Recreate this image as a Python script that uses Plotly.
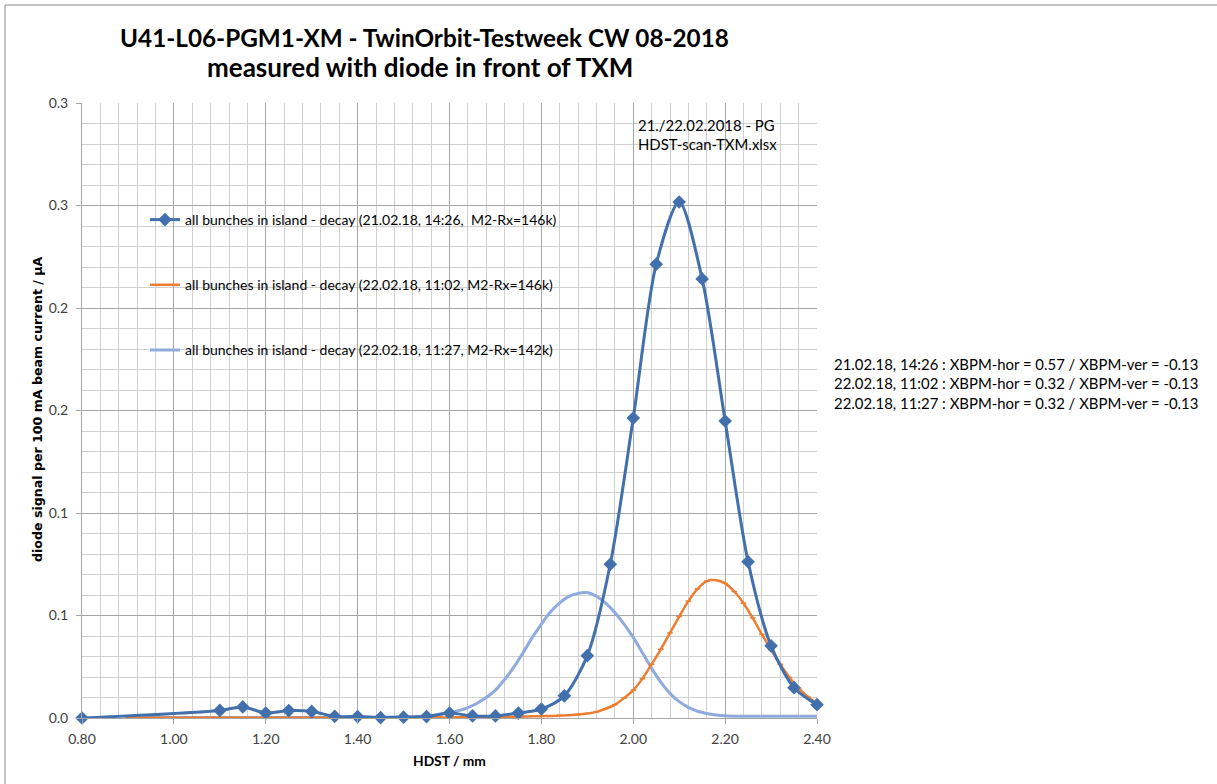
import plotly.graph_objects as go

# ---------------- data ----------------
blue_x = [0.80, 1.10, 1.15, 1.20, 1.25, 1.30, 1.35, 1.40, 1.45, 1.50, 1.55, 1.60, 1.65, 1.70,
          1.75, 1.80, 1.85, 1.90, 1.95, 2.00, 2.05, 2.10, 2.15, 2.20, 2.25, 2.30, 2.35, 2.40]
blue_y = [0.0000, 0.0037, 0.0054, 0.0024, 0.0036, 0.0032, 0.0008, 0.0007, 0.0002, 0.0004, 0.0007,
          0.0024, 0.0010, 0.0010, 0.0024, 0.0044, 0.0108, 0.0304, 0.0750, 0.1463, 0.2214, 0.2517,
          0.2142, 0.1449, 0.0762, 0.0352, 0.0148, 0.0065]

fine_x = [0.90, 0.92, 0.94, 0.96, 0.98, 1.00, 1.02, 1.04, 1.06, 1.08, 1.10, 1.12, 1.14, 1.16,
          1.18, 1.20, 1.22, 1.24, 1.26, 1.28, 1.30, 1.32, 1.34, 1.36, 1.38, 1.40, 1.42, 1.44,
          1.46, 1.48, 1.50, 1.52, 1.54, 1.56, 1.58, 1.60, 1.62, 1.64, 1.66, 1.68, 1.70, 1.72,
          1.74, 1.76, 1.78, 1.80, 1.82, 1.84, 1.86, 1.88, 1.90, 1.92, 1.94, 1.96, 1.98, 2.00,
          2.02, 2.04, 2.06, 2.08, 2.10, 2.12, 2.14, 2.16, 2.18, 2.20, 2.22, 2.24, 2.26, 2.28,
          2.30, 2.32, 2.34, 2.36, 2.38, 2.40]

orange_y = [0.0001, 0.0001, 0.0001, 0.0001, 0.0001, 0.0001, 0.0001, 0.0001, 0.0001, 0.0001,
            0.0001, 0.0001, 0.0001, 0.0001, 0.0001, 0.0001, 0.0001, 0.0001, 0.0001, 0.0001,
            0.0001, 0.0001, 0.0001, 0.0001, 0.0001, 0.0001, 0.0001, 0.0001, 0.0001, 0.0001,
            0.0002, 0.0002, 0.0002, 0.0003, 0.0003, 0.0003, 0.0004, 0.0004, 0.0004, 0.0005,
            0.0005, 0.0005, 0.0006, 0.0007, 0.0008, 0.0009, 0.0010, 0.0012, 0.0014, 0.0017,
            0.0022, 0.0030, 0.0045, 0.0065, 0.0097, 0.0136, 0.0192, 0.0262, 0.0335, 0.0415,
            0.0495, 0.0570, 0.0630, 0.0668, 0.0672, 0.0657, 0.0617, 0.0560, 0.0488, 0.0408,
            0.0333, 0.0262, 0.0198, 0.0146, 0.0104, 0.0070]

lightblue_y = [0.0003, 0.0003, 0.0003, 0.0003, 0.0003, 0.0003, 0.0003, 0.0003, 0.0003, 0.0003,
               0.0003, 0.0003, 0.0003, 0.0003, 0.0003, 0.0003, 0.0003, 0.0003, 0.0003, 0.0003,
               0.0003, 0.0003, 0.0003, 0.0003, 0.0003, 0.0003, 0.0004, 0.0004, 0.0004, 0.0005,
               0.0005, 0.0006, 0.0008, 0.0011, 0.0017, 0.0026, 0.0036, 0.0051, 0.0072, 0.0100,
               0.0136, 0.0188, 0.0248, 0.0318, 0.0392, 0.0458, 0.0518, 0.0562, 0.0593, 0.0608,
               0.0612, 0.0594, 0.0560, 0.0515, 0.0458, 0.0393, 0.0318, 0.0242, 0.0175, 0.0120,
               0.0080, 0.0052, 0.0033, 0.0022, 0.0015, 0.0011, 0.0009, 0.0008, 0.0008, 0.0008,
               0.0008, 0.0008, 0.0008, 0.0008, 0.0008, 0.0008]

series_names = [
    "all bunches in island - decay (21.02.18, 14:26,\u00a0 M2-Rx=146k)",
    "all bunches in island - decay (22.02.18, 11:02, M2-Rx=146k)",
    "all bunches in island - decay (22.02.18, 11:27, M2-Rx=142k)",
]

x_tick_vals = [0.80, 1.00, 1.20, 1.40, 1.60, 1.80, 2.00, 2.20, 2.40]
x_tick_text = ["0.80", "1.00", "1.20", "1.40", "1.60", "1.80", "2.00", "2.20", "2.40"]
y_tick_vals = [0.00, 0.05, 0.10, 0.15, 0.20, 0.25, 0.30]
y_tick_text = ["0.0", "0.1", "0.1", "0.2", "0.2", "0.3", "0.3"]

title_line1 = "U41-L06-PGM1-XM - TwinOrbit-Testweek CW 08-2018"
title_line2 = "measured with diode in front of TXM"
y_title = "diode signal per 100 mA beam current / µA"
x_title = "HDST / mm"
note_text = "21./22.02.2018 - PG<br>HDST-scan-TXM.xlsx"
xbpm_text = ("21.02.18, 14:26 : XBPM-hor = 0.57 / XBPM-ver = -0.13<br>"
             "22.02.18, 11:02 : XBPM-hor = 0.32 / XBPM-ver = -0.13<br>"
             "22.02.18, 11:27 : XBPM-hor = 0.32 / XBPM-ver = -0.13")

# ---------------- styling ----------------
FONT = "Lato, 'Liberation Sans', Arial, sans-serif"
YFONT = "'DejaVu Sans', Verdana, sans-serif"
BLUE = "#4270AD"
ORANGE = "#ED7D31"
LIGHT = "#8FAADC"

W, H = 1217, 784
L, R, T, B = 82, 817, 103, 718


def px(xp):
    return (xp - L) / (R - L)


def py(yp):
    return (B - yp) / (B - T)


fig = go.Figure()
# drawing order: light blue (bottom), orange, blue (top); legend order via legendrank
fig.add_trace(go.Scatter(
    x=fine_x, y=lightblue_y, name=series_names[2], legendgroup="c", legendrank=3,
    mode="lines", line=dict(color=LIGHT, width=3, shape="spline", smoothing=0.8),
))
fig.add_trace(go.Scatter(
    x=fine_x, y=orange_y, name=series_names[1], legendgroup="b", legendrank=2,
    mode="lines+markers", line=dict(color=ORANGE, width=2.5, shape="spline", smoothing=0.8),
    marker=dict(symbol="line-ew", size=4, color=ORANGE, line=dict(color=ORANGE, width=1.5)),
))
fig.add_trace(go.Scatter(
    x=blue_x, y=blue_y, name=series_names[0], legendgroup="a", legendrank=1,
    mode="lines+markers", line=dict(color=BLUE, width=3, shape="spline", smoothing=0.8),
    marker=dict(symbol="diamond", size=10.5, color=BLUE), cliponaxis=False,
))

shapes = [
    dict(type="rect", xref="paper", yref="paper", x0=px(103), x1=px(608), y0=py(380), y1=py(185),
         fillcolor="white", line=dict(width=0), layer="between"),
    dict(type="rect", xref="paper", yref="paper", x0=px(622), x1=px(806), y0=py(162), y1=py(T),
         fillcolor="white", line=dict(width=0), layer="between"),
    dict(type="line", xref="paper", yref="paper", x0=px(5), x1=px(1217), y0=py(5), y1=py(5),
         line=dict(color="#8C8C8C", width=1)),
    dict(type="line", xref="paper", yref="paper", x0=px(5), x1=px(5), y0=py(5), y1=py(784),
         line=dict(color="#8C8C8C", width=1)),
]

annotations = [
    dict(text="<b>" + title_line1 + "</b>", xref="paper", yref="paper",
         x=px(424), y=py(38), xanchor="center", yanchor="middle", showarrow=False,
         font=dict(family=FONT, size=24.3, color="black")),
    dict(text="<b>" + title_line2 + "</b>", xref="paper", yref="paper",
         x=px(420), y=py(67), xanchor="center", yanchor="middle", showarrow=False,
         font=dict(family=FONT, size=26, color="black")),
    dict(text="<b>" + y_title + "</b>", xref="paper", yref="paper",
         x=px(37), y=py(409), textangle=-90, xanchor="center", yanchor="middle", showarrow=False,
         font=dict(family=YFONT, size=12.6, color="black")),
    dict(text="<b>" + x_title + "</b>", xref="paper", yref="paper", x=px(449), y=py(760),
         xanchor="center", yanchor="middle", showarrow=False,
         font=dict(family=FONT, size=13.8, color="black")),
    dict(text=note_text, xref="paper", yref="paper", x=px(636), y=py(135), xanchor="left",
         yanchor="middle", align="left", showarrow=False,
         font=dict(family=FONT, size=14.9, color="black")),
    dict(text=xbpm_text, xref="paper", yref="paper", x=px(832), y=py(383), xanchor="left",
         yanchor="middle", align="left", showarrow=False,
         font=dict(family=FONT, size=14.9, color="black")),
]

axis_common = dict(
    showgrid=True, gridcolor="#A6A6A6", gridwidth=1, zeroline=False,
    showline=True, linecolor="#A6A6A6", linewidth=1,
    ticks="outside", ticklen=5, tickcolor="#A6A6A6",
    tickfont=dict(family=FONT, size=14, color="#404040"),
)

fig.update_layout(
    width=W, height=H,
    margin=dict(l=L, r=W - R, t=T, b=H - B, pad=0),
    paper_bgcolor="white", plot_bgcolor="white",
    showlegend=True,
    legend=dict(x=px(145), y=py(204), xanchor="left", yanchor="top",
                bgcolor="rgba(0,0,0,0)", borderwidth=0,
                font=dict(family=FONT, size=14, color="black"),
                itemwidth=30, tracegroupgap=44, traceorder="grouped"),
    xaxis=dict(range=[0.8, 2.4], tickvals=x_tick_vals, ticktext=x_tick_text,
               minor=dict(dtick=0.04, tick0=0.8, showgrid=True, gridcolor="#D0D0D0", gridwidth=1),
               ticklabelstandoff=3, **axis_common),
    yaxis=dict(range=[0, 0.3], tickvals=y_tick_vals, ticktext=y_tick_text,
               minor=dict(dtick=0.01, tick0=0, showgrid=True, gridcolor="#D0D0D0", gridwidth=1),
               ticklabelstandoff=5, **axis_common),
    shapes=shapes,
    annotations=annotations,
)

fig.write_html("out.html", config={"displayModeBar": False},
               post_script="document.body.style.margin='0';")
